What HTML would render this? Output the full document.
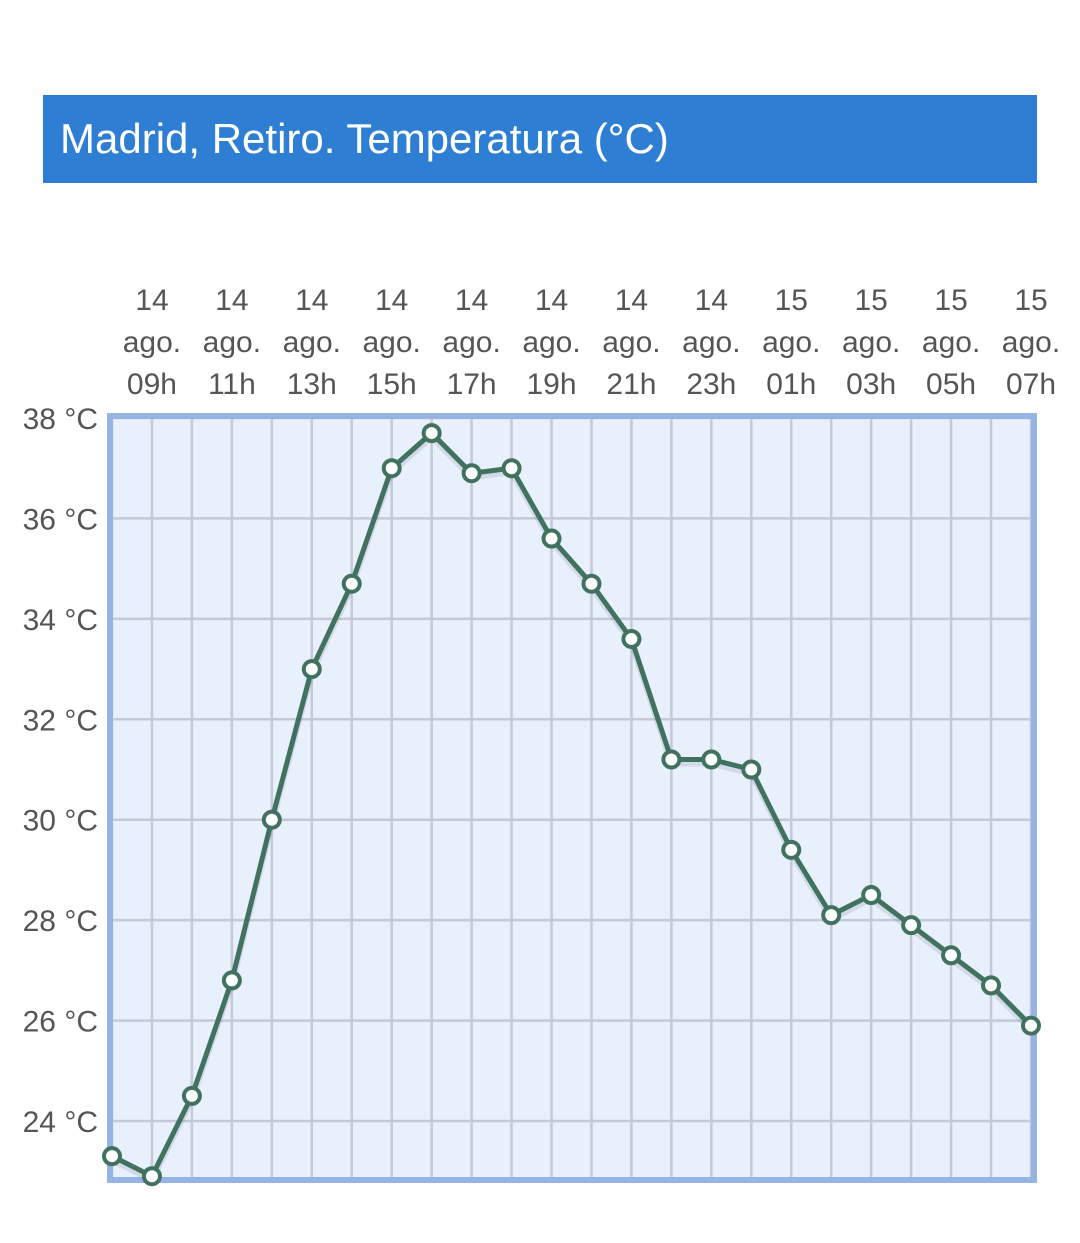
<!DOCTYPE html>
<html><head><meta charset="utf-8"><style>
body{margin:0;background:#fff;width:1080px;height:1243px;overflow:hidden;font-family:"Liberation Sans",sans-serif}
#title{position:absolute;left:43px;top:95px;width:994px;height:88px;background:#2e7fd4;color:#fff;font-size:42px;line-height:88px;box-sizing:border-box;padding-left:17px}
svg{position:absolute;left:0;top:0}
</style></head><body>
<div id="title">Madrid, Retiro. Temperatura (°C)</div>
<svg id="chart" width="1080" height="1243"></svg>
<script>
const hours=["08h","09h","10h","11h","12h","13h","14h","15h","16h","17h","18h","19h","20h","21h","22h","23h","00h","01h","02h","03h","04h","05h","06h","07h"];
const days=["14","14","14","14","14","14","14","14","14","14","14","14","14","14","14","14","15","15","15","15","15","15","15","15"];
const temps=[23.3,22.9,24.5,26.8,30.0,33.0,34.7,37.0,37.7,36.9,37.0,35.6,34.7,33.6,31.2,31.2,31.0,29.4,28.1,28.5,27.9,27.3,26.7,25.9];
const yTicks=[24,26,28,30,32,34,36,38];
const NS="http://www.w3.org/2000/svg";
const svg=document.getElementById('chart');
const X=i=>112+i*(1031-112)/(hours.length-1);
const Y=v=>1121-(v-24)*(1121-418)/14;
function mk(t,a,p){const e=document.createElementNS(NS,t);for(const k in a)e.setAttribute(k,a[k]);(p||svg).appendChild(e);return e;}
const bg=mk('rect',{x:110,y:416,width:924,height:764,fill:'#e8f0fb'});


yTicks.forEach(v=>{
  const l=mk('line',{x1:110,x2:1034,y1:Y(v),y2:Y(v),stroke:'#c3c9d6','stroke-width':2.5});
  
  
  const t=mk('text',{x:98,y:Y(v)+11,'text-anchor':'end','font-size':30,fill:'#555'});
  t.textContent=v+' °C';
  
  
});
hours.forEach((h,i)=>{
  const l=mk('line',{x1:X(i),x2:X(i),y1:416,y2:1180,stroke:'#c3c9d6','stroke-width':2.5});
  
  
  if(i%2==1){
    const t=mk('text',{x:X(i),'text-anchor':'middle','font-size':30,fill:'#555'});
    
    
    [days[i],'ago.',h].forEach((s,k)=>{const ts=mk('tspan',{x:X(i),y:310+k*42},t);ts.textContent=s;});
  }
});
const fr=mk('rect',{x:110,y:416,width:924,height:764,fill:'none',stroke:'#95b4e4','stroke-width':6});


const pts=temps.map((v,i)=>X(i)+','+Y(v)).join(' ');
const sh=mk('polyline',{points:temps.map((v,i)=>X(i)+','+(Y(v)+4)).join(' '),fill:'none',stroke:'rgba(60,60,100,0.12)','stroke-width':6});


const ln=mk('polyline',{points:pts,fill:'none',stroke:'#417260','stroke-width':5,'stroke-linejoin':'round'});


temps.forEach((v,i)=>{
  const c=mk('circle',{cx:X(i),cy:Y(v),r:8,fill:'#fff',stroke:'#417260','stroke-width':4});
  
  
});
</script>
</body></html>
